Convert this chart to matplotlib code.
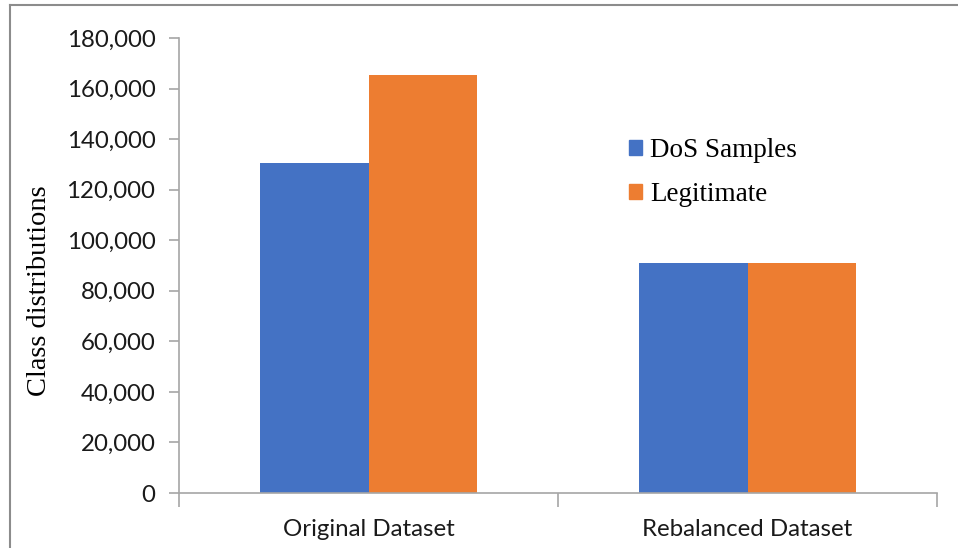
import numpy as np
import matplotlib.pyplot as plt
from matplotlib.ticker import FuncFormatter, FixedLocator
from matplotlib.lines import Line2D
from matplotlib.patches import Patch

# class counts before and after rebalancing
datasets = ['Original Dataset', 'Rebalanced Dataset']
dos_samples = [130400, 90900]
legitimate = [165400, 90900]
series_names = ['DoS Samples', 'Legitimate']

blue = '#4472C4'
orange = '#ED7D31'
axis_grey = '#A6A6A6'

fig = plt.figure(figsize=(9.58, 5.48), dpi=100)
ax = fig.add_axes([179 / 958, 1 - 493 / 548, (937 - 179) / 958, (493 - 38) / 548])

x = np.arange(len(datasets))
w = 0.286
ax.bar(x - w / 2, dos_samples, w, color=blue, label=series_names[0])
ax.bar(x + w / 2, legitimate, w, color=orange, label=series_names[1])

ax.set_xlim(-0.5, len(datasets) - 0.5)
ax.set_ylim(0, 180000)
ax.set_yticks(np.arange(0, 180001, 20000))
ax.yaxis.set_major_formatter(FuncFormatter(lambda v, p: f'{int(v):,}'))

# category labels centred, tick marks on the group boundaries
ax.set_xticks(x)
ax.set_xticklabels(datasets)
ax.xaxis.set_minor_locator(FixedLocator(np.arange(-0.5, len(datasets), 1.0)))
ax.tick_params(axis='x', which='major', length=0, pad=19)
ax.tick_params(axis='x', which='minor', length=10, color=axis_grey, width=1.2)
ax.tick_params(axis='y', length=7, color=axis_grey, width=1.2, pad=10)

for lab in ax.get_xticklabels() + ax.get_yticklabels():
    lab.set_family('Lato')
    lab.set_fontsize(17.3)
    lab.set_color('#1a1a1a')

for side in ['top', 'right']:
    ax.spines[side].set_visible(False)
for side in ['left', 'bottom']:
    ax.spines[side].set_color(axis_grey)
    ax.spines[side].set_linewidth(1.2)

ax.set_ylabel('Class distributions', family='Liberation Serif', fontsize=20.5)
ax.yaxis.set_label_coords(-(179 - 52) / 758, 0.445)

handles = [Patch(color=blue), Patch(color=orange)]
ax.legend(handles, series_names, loc='upper left', bbox_to_anchor=(426 / 758, 1 - 76 / 455),
          frameon=False, handlelength=0.48, handleheight=0.48, handletextpad=0.3,
          labelspacing=0.7, prop={'family': 'Liberation Serif', 'size': 19.5})

# outer frame lines along top and left edges
fig.add_artist(Line2D([10 / 958, 10 / 958], [0, 1 - 5 / 548], transform=fig.transFigure,
                      color='#8C8C8C', lw=1.5))
fig.add_artist(Line2D([10 / 958, 1], [1 - 5 / 548, 1 - 5 / 548], transform=fig.transFigure,
                      color='#8C8C8C', lw=1.5))

fig.savefig('out.png', dpi=100)
